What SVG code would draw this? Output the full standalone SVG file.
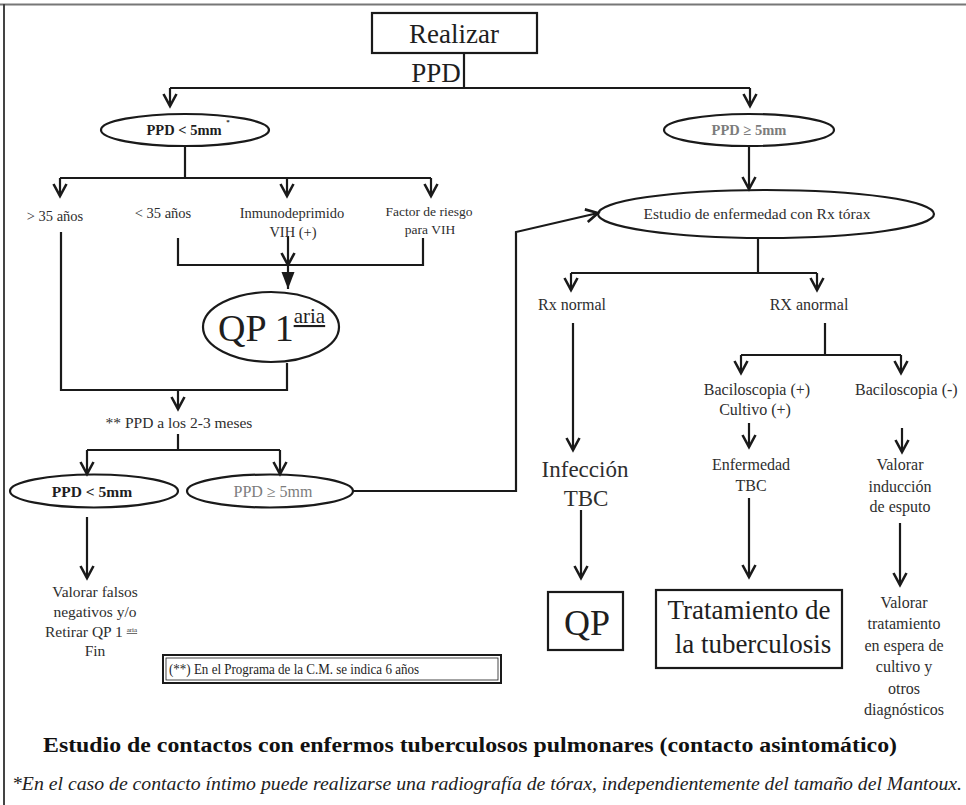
<svg xmlns="http://www.w3.org/2000/svg" width="966" height="805" viewBox="0 0 966 805">
  <style>
    text { font-family: "Liberation Serif", "Tinos", "Times New Roman", "DejaVu Serif", "Noto Serif", serif; fill: #2e2e2e; }
    .m { text-anchor: middle; }
    .b { font-weight: bold; fill: #1e1e1e; }
    .g { fill: #7c7c7c; }
    .dk { fill: #1e1e1e; }
    .shape { fill: none; stroke: #1a1a1a; stroke-width: 2.2; }
    .wire { fill: none; stroke: #1a1a1a; stroke-width: 2.2; }
    .arr { marker-end: url(#vhead); }
  </style>
  <defs>
    <marker id="vhead" markerUnits="userSpaceOnUse" markerWidth="20" markerHeight="20" viewBox="-14 -10 20 20" refX="0" refY="0" orient="auto">
      <path d="M-12,-6.5 L0,0 L-12,6.5" fill="none" stroke="#1a1a1a" stroke-width="2.6" stroke-linejoin="miter"/>
    </marker>
    <marker id="solidhead" markerUnits="userSpaceOnUse" markerWidth="20" markerHeight="20" viewBox="-18 -10 20 20" refX="0" refY="0" orient="auto">
      <path d="M-17,-6.5 L0,0 L-17,6.5 Z" fill="#1a1a1a"/>
    </marker>
  </defs>

  <rect x="0" y="0" width="966" height="805" fill="#ffffff"/>

  <!-- page frame -->
  <g id="frame">
    <line x1="0" y1="4.5" x2="966" y2="4.5" stroke="#777" stroke-width="2"/>
    <line x1="4" y1="4" x2="4" y2="805" stroke="#444" stroke-width="2"/>
  </g>

  <!-- connectors -->
  <g id="connectors">
    <path class="wire" d="M464,53 V88 M170,88 H750"/>
    <path class="wire arr" d="M170,88 V106"/>
    <path class="wire arr" d="M750,88 V106"/>

    <path class="wire" d="M185,147 V178 M60,178 H431"/>
    <path class="wire arr" d="M60,178 V196"/>
    <path class="wire arr" d="M287,178 V196"/>
    <path class="wire arr" d="M431,178 V196"/>

    <path class="wire" d="M178,238 V265 H423 V238"/>
    <path class="wire arr" d="M288,236 V265"/>
    <path class="wire" d="M288,265 V289" marker-end="url(#solidhead)"/>

    <path class="wire" d="M61,232 V390 H287 V363"/>
    <path class="wire arr" d="M178,390 V409"/>

    <path class="wire" d="M178,434 V450 M87,450 H280"/>
    <path class="wire arr" d="M87,450 V474"/>
    <path class="wire arr" d="M280,450 V474"/>
    <path class="wire arr" d="M87,517 V578"/>

    <path class="wire arr" d="M353,491 H516 V232 L598,213"/>

    <path class="wire arr" d="M749,147 V189"/>
    <path class="wire" d="M758,238 V273 M571,273 H817"/>
    <path class="wire arr" d="M571,273 V290"/>
    <path class="wire arr" d="M817,273 V290"/>

    <path class="wire arr" d="M573,323 V450"/>
    <path class="wire arr" d="M581,510 V578"/>

    <path class="wire" d="M825,323 V355 M741,355 H901"/>
    <path class="wire arr" d="M741,355 V373"/>
    <path class="wire arr" d="M901,355 V373"/>
    <path class="wire arr" d="M749,423 V447"/>
    <path class="wire arr" d="M749,498 V577"/>
    <path class="wire arr" d="M902,428 V452"/>
    <path class="wire arr" d="M900,523 V585"/>
  </g>

  <!-- nodes -->
  <g id="realizar">
    <rect class="shape" x="372" y="13" width="165" height="40" fill="#fff"/>
    <text class="m dk" x="454" y="43" font-size="27">Realizar</text>
    <text class="m dk" x="436" y="82" font-size="27">PPD</text>
  </g>

  <g id="ppd-neg">
    <ellipse class="shape" cx="185" cy="130" rx="84" ry="16"/>
    <text class="m b" x="184" y="135" font-size="14.5">PPD &lt; 5mm</text>
    <text class="m b" x="228" y="124" font-size="7">*</text>
  </g>

  <g id="ppd-pos">
    <ellipse class="shape" cx="749" cy="130" rx="85" ry="16"/>
    <text class="m b g" x="749" y="135" font-size="14.5">PPD ≥ 5mm</text>
  </g>

  <g id="mayor35">
    <text class="m" x="55" y="221" font-size="14.5">&gt; 35 años</text>
  </g>
  <g id="menor35">
    <text class="m" x="163" y="218" font-size="14.5">&lt; 35 años</text>
  </g>
  <g id="inmunodeprimido">
    <text class="m" x="292" y="218" font-size="14.5">Inmunodeprimido</text>
    <text class="m" x="293" y="237" font-size="14.5">VIH (+)</text>
  </g>
  <g id="factor-riesgo">
    <text class="m" x="429" y="216" font-size="13.5">Factor de riesgo</text>
    <text class="m" x="430" y="234" font-size="13.5">para VIH</text>
  </g>

  <g id="qp-primaria">
    <ellipse class="shape" cx="271" cy="327" rx="68" ry="35"/>
    <text class="dk" x="218" y="341" font-size="38">QP 1<tspan font-size="21" dy="-18" text-decoration="underline">aria</tspan></text>
  </g>

  <g id="ppd-2-3-meses">
    <text class="m" x="179" y="428" font-size="15.5">** PPD  a los 2-3 meses</text>
  </g>

  <g id="ppd-neg-2">
    <ellipse class="shape" cx="94" cy="491" rx="84" ry="16.5"/>
    <text class="m b" x="92" y="497" font-size="15.5">PPD &lt; 5mm</text>
  </g>
  <g id="ppd-pos-2">
    <ellipse class="shape" cx="270" cy="491" rx="83" ry="16.5"/>
    <text class="m g" x="273" y="497" font-size="16">PPD ≥ 5mm</text>
  </g>

  <g id="valorar-falsos">
    <text class="m" x="95" y="597" font-size="15.5">Valorar falsos</text>
    <text class="m" x="95" y="617" font-size="15.5">negativos y/o</text>
    <text x="45" y="637" font-size="15.5">Retirar QP 1 <tspan font-size="7" dy="-5" text-decoration="underline">aria</tspan></text>
    <text class="m" x="95" y="656" font-size="15.5">Fin</text>
  </g>

  <g id="nota">
    <rect x="163" y="655" width="338" height="28" fill="#fff" stroke="#1a1a1a" stroke-width="2"/>
    <rect x="166" y="658" width="332" height="22" fill="none" stroke="#1a1a1a" stroke-width="0.8"/>
    <text class="dk" x="169" y="674" font-size="14" textLength="250" lengthAdjust="spacingAndGlyphs">(**) En el Programa de la C.M. se indica 6 años</text>
  </g>

  <g id="estudio-rx">
    <ellipse class="shape" cx="766" cy="214" rx="168" ry="24"/>
    <text class="m" x="757" y="219" font-size="15.5">Estudio de enfermedad con Rx tórax</text>
  </g>

  <g id="rx-normal">
    <text class="m" x="572" y="310" font-size="16">Rx normal</text>
  </g>
  <g id="rx-anormal">
    <text class="m" x="809" y="310" font-size="16">RX anormal</text>
  </g>

  <g id="bacilo-pos">
    <text class="m" x="757" y="395" font-size="16">Baciloscopia  (+)</text>
    <text class="m" x="755" y="415" font-size="16">Cultivo (+)</text>
  </g>
  <g id="bacilo-neg">
    <text x="855" y="395" font-size="16">Baciloscopia  (-)</text>
  </g>

  <g id="infeccion">
    <text class="m" x="585" y="477" font-size="23">Infección</text>
    <text class="m" x="586" y="506" font-size="23">TBC</text>
  </g>

  <g id="enfermedad">
    <text class="m" x="751" y="470" font-size="16">Enfermedad</text>
    <text class="m" x="751" y="491" font-size="16">TBC</text>
  </g>

  <g id="induccion">
    <text class="m" x="900" y="470" font-size="16">Valorar</text>
    <text class="m" x="900" y="492" font-size="16">inducción</text>
    <text class="m" x="900" y="512" font-size="16">de esputo</text>
  </g>

  <g id="qp">
    <rect class="shape" x="548" y="592" width="75" height="58"/>
    <text class="m dk" x="587" y="635" font-size="36">QP</text>
  </g>

  <g id="tratamiento">
    <rect class="shape" x="656" y="590" width="186" height="78"/>
    <text class="m dk" x="749" y="619" font-size="27">Tratamiento de</text>
    <text class="m dk" x="753" y="653" font-size="27">la tuberculosis</text>
  </g>

  <g id="valorar-tratamiento">
    <text class="m" x="904" y="608" font-size="16">Valorar</text>
    <text class="m" x="904" y="629" font-size="16">tratamiento</text>
    <text class="m" x="904" y="651" font-size="16">en espera de</text>
    <text class="m" x="904" y="672" font-size="16">cultivo y</text>
    <text class="m" x="904" y="694" font-size="16">otros</text>
    <text class="m" x="904" y="715" font-size="16">diagnósticos</text>
  </g>

  <!-- caption and footnote -->
  <g id="caption">
    <text class="b" x="43" y="752" font-size="20" textLength="854" lengthAdjust="spacingAndGlyphs" style="fill:#111">Estudio de contactos con enfermos tuberculosos pulmonares (contacto asintomático)</text>
    <text x="12" y="790" font-size="19" font-style="italic" textLength="950" lengthAdjust="spacingAndGlyphs" style="fill:#222">*En el caso de contacto íntimo puede realizarse una radiografía de tórax, independientemente del tamaño del Mantoux.</text>
  </g>
</svg>
